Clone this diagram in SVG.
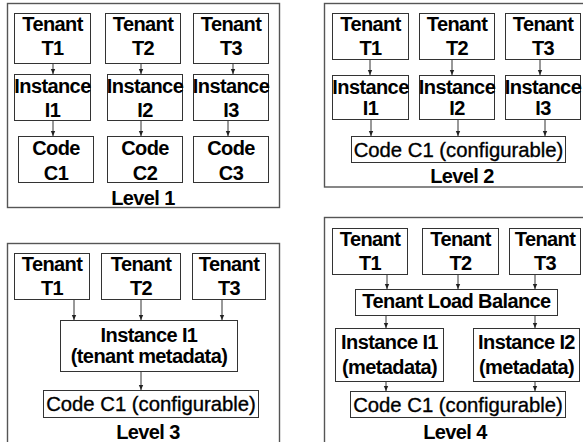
<svg xmlns="http://www.w3.org/2000/svg" width="583" height="442" viewBox="0 0 583 442">
<defs>
<marker id="ah" markerUnits="userSpaceOnUse" markerWidth="6" markerHeight="6" refX="5" refY="3" orient="auto">
<path d="M0,0.8 L5,3 L0,5.2 Z" fill="#222"/>
</marker>
<style>
.panel{fill:#fff;stroke:#555;stroke-width:1.4}
.box{fill:#fff;stroke:#333;stroke-width:1}
.t{font-family:"Liberation Sans",Arial,sans-serif;font-size:20px;font-weight:bold;letter-spacing:-0.6px;fill:#000;text-anchor:middle}
.r{font-family:"Liberation Sans",Arial,sans-serif;font-size:20.3px;font-weight:normal;fill:#000;stroke:#000;stroke-width:0.35;text-anchor:middle}
.c{stroke:#333;stroke-width:1;fill:none;marker-end:url(#ah)}
</style>
</defs>
<rect width="583" height="442" fill="#fff"/>

<g id="panel1">
<rect class="panel" x="7.5" y="3.5" width="272" height="204"/>
<text class="t" x="143" y="205">Level 1</text>
</g>
<g id="panel2">
<rect class="panel" x="324.5" y="3.5" width="300" height="183.5"/>
<text class="t" x="462" y="183">Level 2</text>
</g>
<g id="panel3">
<rect class="panel" x="7.5" y="243.5" width="272" height="210"/>
<text class="t" x="148" y="439">Level 3</text>
</g>
<g id="panel4">
<rect class="panel" x="324.5" y="217.5" width="300" height="240"/>
<text class="t" x="455" y="439">Level 4</text>
</g>

<g id="connectors">
<line class="c" x1="53" y1="63" x2="53" y2="74"/>
<line class="c" x1="141" y1="55" x2="141" y2="74"/>
<line class="c" x1="233" y1="63" x2="233" y2="74"/>
<line class="c" x1="53" y1="108" x2="53" y2="136"/>
<line class="c" x1="141" y1="112" x2="141" y2="136"/>
<line class="c" x1="228" y1="121" x2="228" y2="136"/>

<line class="c" x1="370" y1="59" x2="370" y2="75"/>
<line class="c" x1="452" y1="59" x2="452" y2="75"/>
<line class="c" x1="540" y1="59" x2="540" y2="75"/>
<line class="c" x1="371" y1="119" x2="371" y2="136"/>
<line class="c" x1="458" y1="119" x2="458" y2="136"/>
<line class="c" x1="545" y1="119" x2="545" y2="136"/>

<line class="c" x1="74" y1="299" x2="74" y2="320"/>
<line class="c" x1="141" y1="299" x2="141" y2="320"/>
<line class="c" x1="222" y1="299" x2="222" y2="320"/>
<line class="c" x1="141" y1="371" x2="141" y2="390"/>

<line class="c" x1="387" y1="274" x2="387" y2="289"/>
<line class="c" x1="458" y1="274" x2="458" y2="289"/>
<line class="c" x1="535" y1="274" x2="535" y2="289"/>
<line class="c" x1="386" y1="315" x2="386" y2="328"/>
<line class="c" x1="535" y1="315" x2="535" y2="328"/>
<line class="c" x1="386" y1="382" x2="386" y2="391"/>
<line class="c" x1="535" y1="382" x2="535" y2="391"/>
</g>

<!-- Level 1 -->
<g id="l1-t1"><rect class="box" x="14.5" y="13.5" width="76" height="50"/><text class="t" x="52.5" y="31">Tenant</text><text class="t" x="52.5" y="55">T1</text></g>
<g id="l1-t2"><rect class="box" x="105.5" y="13.5" width="75" height="50"/><text class="t" x="143" y="31">Tenant</text><text class="t" x="143" y="55">T2</text></g>
<g id="l1-t3"><rect class="box" x="193.5" y="13.5" width="75" height="50"/><text class="t" x="231" y="31">Tenant</text><text class="t" x="231" y="55">T3</text></g>
<g id="l1-i1"><rect class="box" x="14.5" y="74.5" width="76" height="46"/><text class="t" x="52.5" y="93">Instance</text><text class="t" x="52.5" y="117">I1</text></g>
<g id="l1-i2"><rect class="box" x="107.5" y="74.5" width="75" height="46"/><text class="t" x="145" y="93">Instance</text><text class="t" x="145" y="117">I2</text></g>
<g id="l1-i3"><rect class="box" x="193.5" y="74.5" width="75" height="46"/><text class="t" x="231" y="93">Instance</text><text class="t" x="231" y="117">I3</text></g>
<g id="l1-c1"><rect class="box" x="18.5" y="136.5" width="75" height="46"/><text class="t" x="56" y="155">Code</text><text class="t" x="56" y="180">C1</text></g>
<g id="l1-c2"><rect class="box" x="107.5" y="136.5" width="75" height="46"/><text class="t" x="145" y="155">Code</text><text class="t" x="145" y="180">C2</text></g>
<g id="l1-c3"><rect class="box" x="193.5" y="136.5" width="75" height="46"/><text class="t" x="231" y="155">Code</text><text class="t" x="231" y="180">C3</text></g>

<!-- Level 2 -->
<g id="l2-t1"><rect class="box" x="332.5" y="13.5" width="76" height="46"/><text class="t" x="370.5" y="31">Tenant</text><text class="t" x="370.5" y="55">T1</text></g>
<g id="l2-t2"><rect class="box" x="419.5" y="13.5" width="75" height="46"/><text class="t" x="457" y="31">Tenant</text><text class="t" x="457" y="55">T2</text></g>
<g id="l2-t3"><rect class="box" x="505.5" y="13.5" width="75" height="46"/><text class="t" x="543" y="31">Tenant</text><text class="t" x="543" y="55">T3</text></g>
<g id="l2-i1"><rect class="box" x="332.5" y="75.5" width="76" height="44"/><text class="t" x="370.5" y="94">Instance</text><text class="t" x="370.5" y="115">I1</text></g>
<g id="l2-i2"><rect class="box" x="419.5" y="75.5" width="75" height="44"/><text class="t" x="457" y="94">Instance</text><text class="t" x="457" y="115">I2</text></g>
<g id="l2-i3"><rect class="box" x="505.5" y="75.5" width="75" height="44"/><text class="t" x="543" y="94">Instance</text><text class="t" x="543" y="115">I3</text></g>
<g id="l2-code"><rect class="box" x="351.5" y="136.5" width="214" height="26"/><text class="r" x="458.5" y="157">Code C1 (configurable)</text></g>

<!-- Level 3 -->
<g id="l3-t1"><rect class="box" x="14.5" y="253.5" width="75" height="46"/><text class="t" x="52" y="271">Tenant</text><text class="t" x="52" y="295">T1</text></g>
<g id="l3-t2"><rect class="box" x="101.5" y="253.5" width="79" height="46"/><text class="t" x="141" y="271">Tenant</text><text class="t" x="141" y="295">T2</text></g>
<g id="l3-t3"><rect class="box" x="192.5" y="253.5" width="73" height="46"/><text class="t" x="229" y="271">Tenant</text><text class="t" x="229" y="295">T3</text></g>
<g id="l3-inst"><rect class="box" x="60.5" y="320.5" width="177" height="51"/><text class="t" x="149" y="342">Instance I1</text><text class="t" x="149" y="363">(tenant metadata)</text></g>
<g id="l3-code"><rect class="box" x="43.5" y="390.5" width="215" height="27"/><text class="r" x="151" y="411">Code C1 (configurable)</text></g>

<!-- Level 4 -->
<g id="l4-t1"><rect class="box" x="332.5" y="228.5" width="75" height="46"/><text class="t" x="370" y="246">Tenant</text><text class="t" x="370" y="270">T1</text></g>
<g id="l4-t2"><rect class="box" x="422.5" y="228.5" width="76" height="46"/><text class="t" x="460.5" y="246">Tenant</text><text class="t" x="460.5" y="270">T2</text></g>
<g id="l4-t3"><rect class="box" x="509.5" y="228.5" width="71" height="46"/><text class="t" x="545" y="246">Tenant</text><text class="t" x="545" y="270">T3</text></g>
<g id="l4-lb"><rect class="box" x="355.5" y="289.5" width="202" height="26"/><text class="t" x="456.5" y="308">Tenant Load Balance</text></g>
<g id="l4-i1"><rect class="box" x="335.5" y="328.5" width="108" height="53"/><text class="t" x="389.5" y="349">Instance I1</text><text class="t" x="389.5" y="374">(metadata)</text></g>
<g id="l4-i2"><rect class="box" x="473.5" y="328.5" width="106" height="53"/><text class="t" x="526.5" y="349">Instance I2</text><text class="t" x="526.5" y="374">(metadata)</text></g>
<g id="l4-code"><rect class="box" x="350.5" y="391.5" width="215" height="26"/><text class="r" x="458" y="412">Code C1 (configurable)</text></g>
</svg>
